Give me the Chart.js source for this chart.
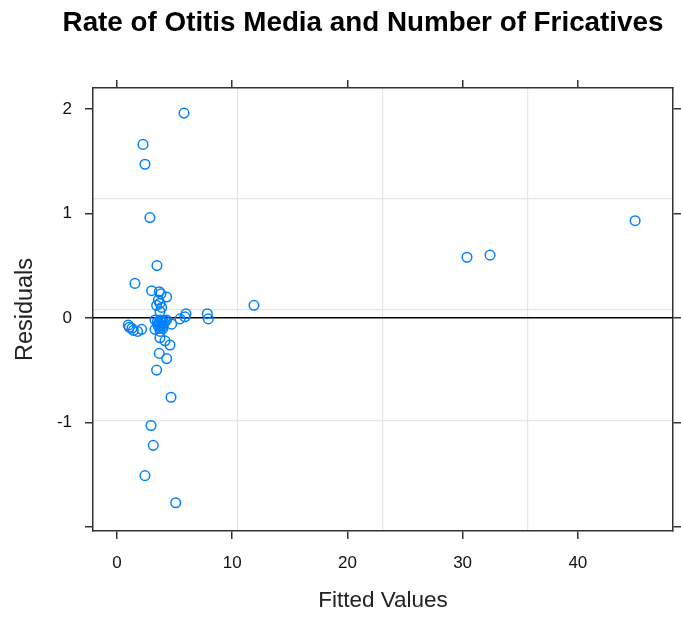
<!DOCTYPE html>
<html>
<head>
<meta charset="utf-8">
<script src="https://cdn.jsdelivr.net/npm/chart.js@4.4.1/dist/chart.umd.min.js"></script>
<style>
	body { margin: 0; background: #fff; }
	canvas { display: block; }
</style>
</head>
<body>
<canvas id="residChart" width="681" height="620"></canvas>
<script>
// Residuals vs fitted values
const fitted = [
	5.82, 2.26, 2.43, 2.86, 3.47, 1.56, 11.89, 30.38, 32.38, 44.97,
	3.01, 3.67, 3.82, 4.31, 3.59, 3.73, 3.44, 3.88, 3.73,
	5.99, 5.90, 5.47, 7.84, 7.93, 4.75,
	3.30, 3.73, 4.31, 3.50, 3.90, 4.10, 3.60, 3.85, 4.00, 3.30, 3.75,
	3.65, 3.80, 3.95, 3.55, 4.20, 3.70,
	0.98, 1.07, 1.30, 1.42, 1.79, 2.14,
	3.73, 4.17, 4.60, 3.67, 4.31, 3.44, 4.69, 2.95, 3.15, 2.43, 5.10
];
const residuals = [
	1.96, 1.66, 1.47, 0.96, 0.50, 0.33, 0.12, 0.58, 0.60, 0.93,
	0.26, 0.25, 0.23, 0.20, 0.17, 0.14, 0.12, 0.10, 0.06,
	0.04, 0.01, -0.01, 0.04, -0.01, -0.06,
	-0.02, -0.02, -0.02, -0.04, -0.04, -0.05, -0.08, -0.07, -0.10, -0.11, -0.13,
	-0.05, -0.03, -0.08, -0.07, -0.03, -0.10,
	-0.07, -0.09, -0.10, -0.12, -0.13, -0.11,
	-0.19, -0.22, -0.26, -0.34, -0.39, -0.50, -0.76, -1.03, -1.22, -1.51, -1.77
];

const xTicks = [0, 10, 20, 30, 40];
const xTickLabels = ['0', '10', '20', '30', '40'];
const yTicks = [-2, -1, 0, 1, 2];
const yTickLabels = ['', '-1', '0', '1', '2'];

const chartTitle = 'Rate of Otitis Media and Number of Fricatives';
const xTitle = 'Fitted Values';
const yTitle = 'Residuals';

const xRange = [-2.08, 48.26];
const yRange = [-2.04, 2.2];

const frameColor = '#333333';
const pointColor = '#0080ff';
const gridColor = '#e6e6e6';

// lattice-style frame ticks (outside only)
function frameAxis(position, ticks, labels, showLabels) {
	const horizontal = position === 'top' || position === 'bottom';
	return {
		type: 'linear',
		position: position,
		min: horizontal ? xRange[0] : yRange[0],
		max: horizontal ? xRange[1] : yRange[1],
		afterBuildTicks: s => { s.ticks = ticks.map(v => ({ value: v })); },
		grid: {
			drawOnChartArea: false,
			drawTicks: true,
			tickLength: 8,
			color: frameColor,
			lineWidth: 1.5
		},
		border: { display: true, color: frameColor, width: 1.5 },
		ticks: {
			display: showLabels,
			color: '#111',
			padding: horizontal ? 14 : 13,
			font: { family: '"Liberation Sans", Arial, sans-serif', size: 17 },
			callback: (v, i) => labels[i]
		}
	};
}

// grid lines split the panel in four, like the reference
function gridAxis(position) {
	const horizontal = position === 'bottom';
	return {
		type: 'linear',
		position: position,
		min: horizontal ? xRange[0] : yRange[0],
		max: horizontal ? xRange[1] : yRange[1],
		afterBuildTicks: s => {
			const step = (s.max - s.min) / 4;
			s.ticks = [1, 2, 3].map(i => ({ value: s.min + i * step }));
		},
		afterFit: s => { if (horizontal) s.height = 0; else s.width = 0; },
		grid: { drawOnChartArea: true, drawTicks: false, color: gridColor, lineWidth: 1.2 },
		border: { display: false },
		ticks: { display: false }
	};
}

const xAxis = frameAxis('bottom', xTicks, xTickLabels, true);
xAxis.title = {
	display: true,
	text: xTitle,
	color: '#222',
	font: { family: '"Liberation Sans", Arial, sans-serif', size: 22.5 },
	padding: { top: 0, bottom: 6 }
};
xAxis.afterFit = s => { s.height = 89; };

const yAxis = frameAxis('left', yTicks, yTickLabels, true);
yAxis.title = {
	display: true,
	text: yTitle,
	color: '#222',
	font: { family: '"Liberation Sans", Arial, sans-serif', size: 23.5 },
	padding: { top: 11, bottom: 0 }
};
yAxis.afterFit = s => { s.width = 93; };

const xTop = frameAxis('top', xTicks, xTickLabels, false);
xTop.afterFit = s => { s.height = 8; };
const yRight = frameAxis('right', yTicks, yTickLabels, false);
yRight.afterFit = s => { s.width = 8; };

const zeroLine = {
	id: 'zeroLine',
	beforeDatasetsDraw(chart) {
		const { ctx, chartArea, scales } = chart;
		const y = scales.y.getPixelForValue(0);
		ctx.save();
		ctx.strokeStyle = '#000';
		ctx.lineWidth = 1.5;
		ctx.beginPath();
		ctx.moveTo(chartArea.left, y);
		ctx.lineTo(chartArea.right, y);
		ctx.stroke();
		ctx.restore();
	}
};

// main title, centred like the reference (not over the panel)
const mainTitle = {
	id: 'mainTitle',
	afterDraw(chart) {
		const ctx = chart.ctx;
		ctx.save();
		ctx.font = 'bold 27.8px "Liberation Sans", Arial, sans-serif';
		ctx.fillStyle = '#000';
		ctx.textAlign = 'center';
		ctx.textBaseline = 'alphabetic';
		ctx.fillText(chartTitle, 363, 31);
		ctx.restore();
	}
};

new Chart(document.getElementById('residChart'), {
	type: 'scatter',
	data: {
		datasets: [{
			label: 'Residuals',
			data: fitted.map((x, i) => ({ x: x, y: residuals[i] })),
			pointStyle: 'circle',
			pointRadius: 4.8,
			pointBorderWidth: 1.5,
			borderColor: pointColor,
			backgroundColor: 'rgba(0,0,0,0)'
		}]
	},
	options: {
		responsive: false,
		animation: false,
		layout: { padding: { top: 80, left: 0, right: 0, bottom: 0 } },
		scales: {
			xg: gridAxis('bottom'),
			yg: gridAxis('left'),
			x: xAxis,
			y: yAxis,
			x2: xTop,
			y2: yRight
		},
		plugins: {
			legend: { display: false },
			tooltip: { enabled: false }
		}
	},
	plugins: [zeroLine, mainTitle]
});
</script>
</body>
</html>
